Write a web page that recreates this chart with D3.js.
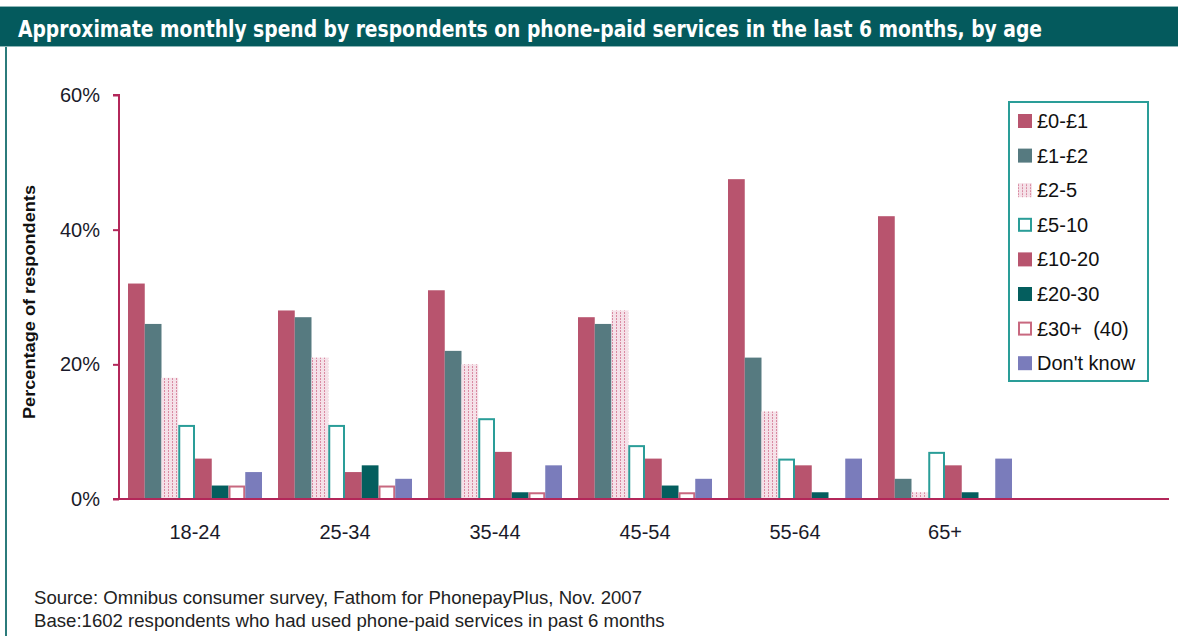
<!DOCTYPE html>
<html>
<head>
<meta charset="utf-8">
<script src="https://cdn.jsdelivr.net/npm/d3@7"></script>
<style>
body { margin: 0; background: #fff; }
svg { display: block; font-family: "Liberation Sans", Arial, sans-serif; }
</style>
</head>
<body>
<svg></svg>
<script>
var ages = ["18-24", "25-34", "35-44", "45-54", "55-64", "65+"];
var seriesNames = ["£0-£1", "£1-£2", "£2-5", "£5-10", "£10-20", "£20-30", "£30+  (40)", "Don't know"];
var spend0to1 = [32, 28, 31, 27, 47.5, 42];
var spend1to2 = [26, 27, 22, 26, 21, 3];
var spend2to5 = [18, 21, 20, 28, 13, 1];
var spend5to10 = [11, 11, 12, 8, 6, 7];
var spend10to20 = [6, 4, 7, 6, 5, 5];
var spend20to30 = [2, 5, 1, 2, 1, 1];
var spend30plus = [2, 2, 1, 1, 0, 0];
var dontKnow = [4, 3, 5, 3, 6, 6];
var yTicks = [0, 20, 40, 60];

var width = 1178,
	height = 636,
	teal = "#2a9d98",
	axisColor = "#b3275a";

var seriesValues = [spend0to1, spend1to2, spend2to5, spend5to10, spend10to20, spend20to30, spend30plus, dontKnow];
var fills = ["#b8546e", "#567a80", "url(#dots)", "#fff", "#b8546e", "#045e5e", "#fff", "#7a7cbb"];
var strokes = ["none", "none", "none", teal, "none", "none", "#c8687f", "none"];

var svg = d3.select("svg").attr("width", width).attr("height", height);

// pattern for the £2-5 bars
var pat = svg.append("defs").append("pattern")
	.attr("id", "dots").attr("patternUnits", "userSpaceOnUse")
	.attr("width", 4).attr("height", 3);
pat.append("rect").attr("width", 4).attr("height", 3).attr("fill", "#f5e1e8");
pat.append("rect").attr("x", 0).attr("y", 0).attr("width", 1).attr("height", 2).attr("fill", "#d98aa2");

// frame and title bar
svg.append("rect").attr("x", 0).attr("y", 6).attr("width", width).attr("height", 41).attr("fill", "#045a5d");
svg.append("line").attr("x1", 0).attr("x2", width).attr("y1", 6.5).attr("y2", 6.5).attr("stroke", "#8fb7b8");
svg.append("line").attr("x1", 0).attr("x2", width).attr("y1", 46.5).attr("y2", 46.5).attr("stroke", "#8fb7b8");
svg.append("line").attr("x1", 6).attr("x2", 6).attr("y1", 47).attr("y2", height).attr("stroke", "#2b7b7b").attr("stroke-width", 2);
svg.append("text").attr("x", 18).attr("y", 37)
	.attr("fill", "#fff").attr("font-weight", "bold").attr("font-size", 23)
	.attr("font-family", "'Liberation Sans Narrow', 'DejaVu Sans Condensed', sans-serif")
	.attr("textLength", 1024).attr("lengthAdjust", "spacingAndGlyphs")
	.text("Approximate monthly spend by respondents on phone-paid services in the last 6 months, by age");

var x = d3.scaleBand().domain(ages.concat([""])).range([120, 1170])
	.paddingInner(16 / 150).paddingOuter(8 / 150);
var xInner = d3.scaleBand().domain(d3.range(seriesNames.length)).range([0, x.bandwidth()]);
var y = d3.scaleLinear().domain([0, 60]).range([499, 95]);

// y axis
var yAxis = svg.append("g").attr("transform", "translate(119,0)")
	.call(d3.axisLeft(y).tickValues(yTicks).tickSize(6).tickPadding(13).tickFormat(function(d){ return d + "%"; }));
yAxis.selectAll("path, line").attr("stroke", axisColor).attr("stroke-width", 2);
yAxis.select(".domain").attr("d", "M-6,95H0V499");
yAxis.selectAll("text").attr("font-size", 20).attr("fill", "#1a1a2a").attr("font-family", "'Liberation Sans', Arial, sans-serif");

svg.append("text").attr("transform", "translate(35,302) rotate(-90)")
	.attr("text-anchor", "middle").attr("font-weight", "bold").attr("font-size", 16).attr("fill", "#111")
	.attr("textLength", 234).attr("lengthAdjust", "spacingAndGlyphs")
	.text("Percentage of respondents");

// bars
seriesValues.forEach(function(vals, s) {
	var inset = strokes[s] == "none" ? 0 : 1;
	svg.append("g").selectAll("rect").data(vals).enter().append("rect")
		.attr("x", function(d, i){ return x(ages[i]) + xInner(s) + inset; })
		.attr("y", function(d){ return y(d) + inset; })
		.attr("width", xInner.bandwidth() - 2 * inset)
		.attr("height", function(d){ return Math.max(0, y(0) - y(d) - inset); })
		.attr("fill", fills[s])
		.attr("stroke", strokes[s])
		.attr("stroke-width", 2);
});

// x axis
var xAxis = svg.append("g").attr("transform", "translate(0,499)")
	.call(d3.axisBottom(x).tickSize(0).tickPadding(26));
xAxis.select(".domain").attr("stroke", axisColor).attr("stroke-width", 2).attr("d", "M113,0H1169");
xAxis.selectAll("text").attr("font-size", 20).attr("fill", "#1a1a2a").attr("font-family", "'Liberation Sans', Arial, sans-serif");

// legend
var legend = svg.append("g");
legend.append("rect").attr("x", 1009).attr("y", 102).attr("width", 139).attr("height", 279)
	.attr("fill", "#fff").attr("stroke", teal).attr("stroke-width", 2);
var rows = legend.selectAll("g.row").data(seriesNames).enter().append("g")
	.attr("transform", function(d, i){ return "translate(1018," + (121 + i * 34.6) + ")"; });
rows.append("rect")
	.attr("x", function(d, i){ return strokes[i] == "none" ? 0 : 1; })
	.attr("y", function(d, i){ return strokes[i] == "none" ? -7 : -6; })
	.attr("width", function(d, i){ return strokes[i] == "none" ? 14 : 12; })
	.attr("height", function(d, i){ return strokes[i] == "none" ? 14 : 12; })
	.attr("fill", function(d, i){ return fills[i]; })
	.attr("stroke", function(d, i){ return strokes[i]; })
	.attr("stroke-width", 2);
rows.append("text").attr("x", 19).attr("y", 7).attr("font-size", 20).attr("fill", "#111")
	.style("white-space", "pre").attr("xml:space", "preserve")
	.text(function(d){ return d; });

// footer
svg.append("text").attr("x", 34).attr("y", 604).attr("font-size", 18.6).attr("fill", "#222")
	.text("Source: Omnibus consumer survey, Fathom for PhonepayPlus, Nov. 2007");
svg.append("text").attr("x", 34).attr("y", 627).attr("font-size", 18.6).attr("fill", "#222")
	.text("Base:1602 respondents who had used phone-paid services in past 6 months");
</script>
</body>
</html>
